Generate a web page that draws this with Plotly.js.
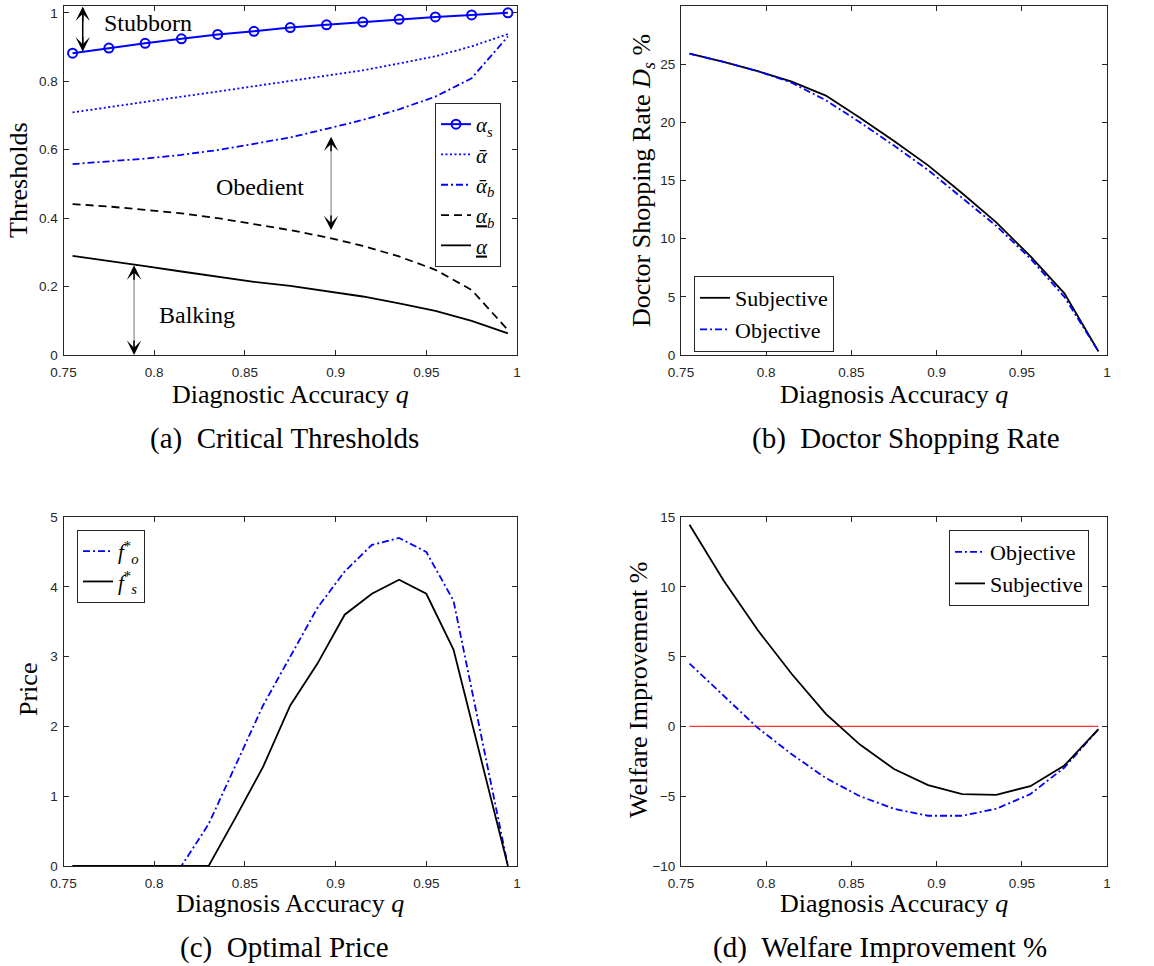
<!DOCTYPE html>
<html>
<head>
<meta charset="utf-8">
<script src="https://cdn.plot.ly/plotly-3.0.1.min.js"></script>
<style>
  html, body { margin: 0; padding: 0; background: #fff; }
  #chart { width: 1154px; height: 966px; }
</style>
</head>
<body>
<div id="chart"></div>
<script>
// ---------------- DATA ----------------
// Panel (a) Critical Thresholds
const qA = [0.755, 0.775, 0.795, 0.815, 0.835, 0.855, 0.875, 0.895, 0.915, 0.935, 0.955, 0.975, 0.995];
const alphaS      = [0.882, 0.897, 0.911, 0.924, 0.937, 0.946, 0.957, 0.965, 0.973, 0.981, 0.988, 0.994, 1.000];
const alphaBar    = [0.709, 0.725, 0.740, 0.755, 0.770, 0.785, 0.800, 0.816, 0.832, 0.852, 0.873, 0.902, 0.938];
const alphaBarB   = [0.558, 0.565, 0.574, 0.585, 0.599, 0.617, 0.636, 0.661, 0.687, 0.718, 0.755, 0.809, 0.931];
const alphaUnderB = [0.441, 0.434, 0.424, 0.414, 0.400, 0.383, 0.365, 0.344, 0.319, 0.288, 0.249, 0.190, 0.073];
const alphaUnder  = [0.290, 0.276, 0.260, 0.244, 0.229, 0.214, 0.202, 0.187, 0.171, 0.151, 0.129, 0.100, 0.063];

// Panel (b) Doctor Shopping Rate (%)
const qB = [0.755, 0.775, 0.795, 0.815, 0.835, 0.855, 0.875, 0.895, 0.915, 0.935, 0.955, 0.975, 0.995];
const dsSubjective = [25.9, 25.2, 24.4, 23.5, 22.3, 20.4, 18.4, 16.3, 13.9, 11.4, 8.5, 5.3, 0.3];
const dsObjective  = [25.9, 25.2, 24.4, 23.4, 21.9, 20.0, 18.0, 15.9, 13.5, 11.1, 8.3, 5.0, 0.3];

// Panel (c) Optimal Price
const qC = [0.755, 0.770, 0.785, 0.800, 0.815, 0.830, 0.845, 0.860, 0.875, 0.890, 0.905, 0.920, 0.935, 0.950, 0.965, 0.980, 0.995];
const priceObjective  = [0, 0, 0, 0, 0, 0.60, 1.45, 2.30, 3.00, 3.70, 4.22, 4.60, 4.70, 4.50, 3.80, 1.90, 0];
const priceSubjective = [0, 0, 0, 0, 0, 0, 0.70, 1.42, 2.30, 2.90, 3.60, 3.90, 4.10, 3.90, 3.10, 1.55, 0];

// Panel (d) Welfare Improvement (%)
const qD = [0.755, 0.775, 0.795, 0.815, 0.835, 0.855, 0.875, 0.895, 0.915, 0.935, 0.955, 0.975, 0.995];
const welfareObjective  = [4.5, 2.2, -0.1, -2.0, -3.7, -5.0, -5.9, -6.4, -6.4, -5.9, -4.85, -2.95, -0.2];
const welfareSubjective = [14.45, 10.45, 6.9, 3.75, 0.9, -1.3, -3.05, -4.2, -4.85, -4.9, -4.28, -2.8, -0.2];
const refLineX = [0.755, 0.995];
const refLineY = [0, 0];

// Tick labels
const xTickVals = [0.75, 0.8, 0.85, 0.9, 0.95, 1];
const xTickText = ['0.75', '0.8', '0.85', '0.9', '0.95', '1'];
const yTickValsA = [0, 0.2, 0.4, 0.6, 0.8, 1];
const yTickTextA = ['0', '0.2', '0.4', '0.6', '0.8', '1'];
const yTickValsB = [0, 5, 10, 15, 20, 25, 30];
const yTickValsC = [0, 1, 2, 3, 4, 5];
const yTickValsD = [-10, -5, 0, 5, 10, 15];

// ---------------- STYLE ----------------
const W = 1154, H = 966;
const BLUE = '#0000ff', BLACK = '#000000', AX = '#262626';
const SERIF = 'Liberation Serif, Times New Roman, serif';
const SANS = 'Liberation Sans, Arial, Helvetica, sans-serif';
const px = v => v / W;          // x pixel -> paper
const py = v => 1 - v / H;      // y pixel -> paper

const LW = 1.8;
const DASHDOT = '7px,3px,2px,3px';
const DASH = '8px,5px';
const DOT = '2px,2.5px';

function xAxis(anchor, dom) {
  return {
    domain: dom, anchor: anchor, range: [0.75, 1], tickmode: 'array',
    tickvals: xTickVals, ticktext: xTickText, ticks: 'inside', ticklen: 5,
    tickcolor: AX, showline: true, mirror: 'ticks', linecolor: AX, linewidth: 1,
    showgrid: false, zeroline: false, tickfont: {family: SANS, size: 13.5, color: AX},
    ticklabelstandoff: 5, fixedrange: true
  };
}
function yAxis(anchor, dom, range, vals, text) {
  const a = {
    domain: dom, anchor: anchor, range: range, tickmode: 'array', tickvals: vals,
    ticks: 'inside', ticklen: 5, tickcolor: AX, showline: true, mirror: 'ticks',
    linecolor: AX, linewidth: 1, showgrid: false, zeroline: false,
    tickfont: {family: SANS, size: 13.5, color: AX}, ticklabelstandoff: 2, fixedrange: true
  };
  if (text) a.ticktext = text;
  return a;
}

const domXL = [px(63.5), px(517)];
const domXR = [px(681), px(1107)];
const domYT = [py(355), py(6)];
const domYB = [py(866), py(517)];

const A = '<i>α</i>';
const A_OVER = '<i>\u1FB1</i>';
const UL = s => '<span style="text-decoration:underline">' + s + '</span>';

const traces = [
  // (a)
  {x: qA, y: alphaS, xaxis: 'x', yaxis: 'y', mode: 'lines+markers', name: A + '<sub><i>s</i></sub>',
   line: {color: BLUE, width: 2}, marker: {symbol: 'circle-open', size: 9, color: BLUE, line: {width: 2}},
   legend: 'legend'},
  {x: qA, y: alphaBar, xaxis: 'x', yaxis: 'y', mode: 'lines', name: A_OVER,
   line: {color: BLUE, width: LW, dash: DOT}, legend: 'legend'},
  {x: qA, y: alphaBarB, xaxis: 'x', yaxis: 'y', mode: 'lines', name: A_OVER + '<sub><i>b</i></sub>',
   line: {color: BLUE, width: LW, dash: DASHDOT}, legend: 'legend'},
  {x: qA, y: alphaUnderB, xaxis: 'x', yaxis: 'y', mode: 'lines', name: UL(A) + '<sub><i>b</i></sub>',
   line: {color: BLACK, width: LW, dash: DASH}, legend: 'legend'},
  {x: qA, y: alphaUnder, xaxis: 'x', yaxis: 'y', mode: 'lines', name: UL(A),
   line: {color: BLACK, width: LW}, legend: 'legend'},
  // (b)
  {x: qB, y: dsSubjective, xaxis: 'x2', yaxis: 'y2', mode: 'lines', name: 'Subjective',
   line: {color: BLACK, width: LW}, legend: 'legend2'},
  {x: qB, y: dsObjective, xaxis: 'x2', yaxis: 'y2', mode: 'lines', name: 'Objective',
   line: {color: BLUE, width: LW, dash: DASHDOT}, legend: 'legend2'},
  // (c)
  {x: qC, y: priceObjective, xaxis: 'x3', yaxis: 'y3', mode: 'lines', name: '<i>f</i><sup>*</sup><sub><i>o</i></sub>',
   line: {color: BLUE, width: LW, dash: DASHDOT}, legend: 'legend3'},
  {x: qC, y: priceSubjective, xaxis: 'x3', yaxis: 'y3', mode: 'lines', name: '<i>f</i><sup>*</sup><sub><i>s</i></sub>',
   line: {color: BLACK, width: LW}, legend: 'legend3'},
  // (d)
  {x: refLineX, y: refLineY, xaxis: 'x4', yaxis: 'y4', mode: 'lines', showlegend: false,
   line: {color: '#ff3030', width: 1.2}, hoverinfo: 'skip'},
  {x: qD, y: welfareObjective, xaxis: 'x4', yaxis: 'y4', mode: 'lines', name: 'Objective',
   line: {color: BLUE, width: LW, dash: DASHDOT}, legend: 'legend4'},
  {x: qD, y: welfareSubjective, xaxis: 'x4', yaxis: 'y4', mode: 'lines', name: 'Subjective',
   line: {color: BLACK, width: LW}, legend: 'legend4'}
];

function legendBox(x, y, size) {
  return {x: px(x), y: py(y), xanchor: 'left', yanchor: 'top', bgcolor: '#ffffff',
          bordercolor: AX, borderwidth: 1, font: {family: SERIF, size: size, color: BLACK},
          itemwidth: 30, tracegroupgap: 0, traceorder: 'normal'};
}

function txt(text, x, y, size, angle) {
  return {text: text, xref: 'paper', yref: 'paper', x: px(x), y: py(y), showarrow: false,
          xanchor: 'center', yanchor: 'middle', textangle: angle || 0,
          font: {family: SERIF, size: size, color: BLACK}};
}
function dataTxt(text, xr, yr, x, y, size) {
  return {text: text, xref: xr, yref: yr, x: x, y: y, showarrow: false,
          xanchor: 'center', yanchor: 'middle', font: {family: SERIF, size: size, color: BLACK}};
}
// arrow head only (tip at data point, short tail given in pixels)
function head(x, y, dir) {
  return {text: '', xref: 'x', yref: 'y', x: x, y: y, ax: 0, ay: dir * 16,
          showarrow: true, arrowhead: 3, arrowsize: 1.6, arrowwidth: 1.5, arrowcolor: BLACK,
          standoff: 0};
}

const annotations = [
  // axis titles
  txt('Diagnostic Accuracy <i>q</i>', 290, 394, 26),
  txt('Thresholds', 18, 180, 26, -90),
  txt('Diagnosis Accuracy <i>q</i>', 894, 394, 26),
  txt('Doctor Shopping Rate <i>D</i><sub><i>s</i></sub> %', 643, 181, 26, -90),
  txt('Diagnosis Accuracy <i>q</i>', 290, 903, 26),
  txt('Price', 28, 690, 26, -90),
  txt('Diagnosis Accuracy <i>q</i>', 894, 903, 26),
  txt('Welfare Improvement %', 638, 690, 26, -90),
  // captions
  txt('(a)\u2002Critical Thresholds', 284, 438, 29),
  txt('(b)\u2002Doctor Shopping Rate', 906, 438, 29),
  txt('(c)\u2002Optimal Price', 284, 947, 29),
  txt('(d)\u2002Welfare Improvement %', 880, 947, 29),
  // region labels in panel (a)
  dataTxt('Stubborn', 'x', 'y', 0.7966, 0.971, 24),
  dataTxt('Obedient', 'x', 'y', 0.8583, 0.492, 24),
  dataTxt('Balking', 'x', 'y', 0.8234, 0.117, 24),
  // arrow heads
  head(0.7606, 1.018, 1), head(0.7606, 0.887, -1),
  head(0.8975, 0.638, 1), head(0.8975, 0.365, -1),
  head(0.7889, 0.262, 1), head(0.7889, 0.0, -1)
];

const shapes = [
  {type: 'line', xref: 'x', yref: 'y', x0: 0.7606, x1: 0.7606, y0: 0.89, y1: 1.015, line: {color: BLACK, width: 1.5}},
  {type: 'line', xref: 'x', yref: 'y', x0: 0.8975, x1: 0.8975, y0: 0.37, y1: 0.633, line: {color: '#777777', width: 1}},
  {type: 'line', xref: 'x', yref: 'y', x0: 0.7889, x1: 0.7889, y0: 0.005, y1: 0.257, line: {color: '#777777', width: 1}}
];

const layout = {
  width: W, height: H, margin: {l: 0, r: 0, t: 0, b: 0},
  paper_bgcolor: '#ffffff', plot_bgcolor: '#ffffff', showlegend: true,
  xaxis: xAxis('y', domXL), yaxis: yAxis('x', domYT, [0, 1.02], yTickValsA, yTickTextA),
  xaxis2: xAxis('y2', domXR), yaxis2: yAxis('x2', domYT, [0, 30], yTickValsB),
  xaxis3: xAxis('y3', domXL), yaxis3: yAxis('x3', domYB, [0, 5], yTickValsC),
  xaxis4: xAxis('y4', domXR), yaxis4: yAxis('x4', domYB, [-10, 15], yTickValsD),
  legend: legendBox(435, 103, 21),
  legend2: legendBox(694, 276, 22),
  legend3: legendBox(77, 530, 21),
  legend4: legendBox(949, 530, 22),
  annotations: annotations, shapes: shapes
};

Plotly.newPlot('chart', traces, layout, {staticPlot: true, displayModeBar: false});
</script>
</body>
</html>
